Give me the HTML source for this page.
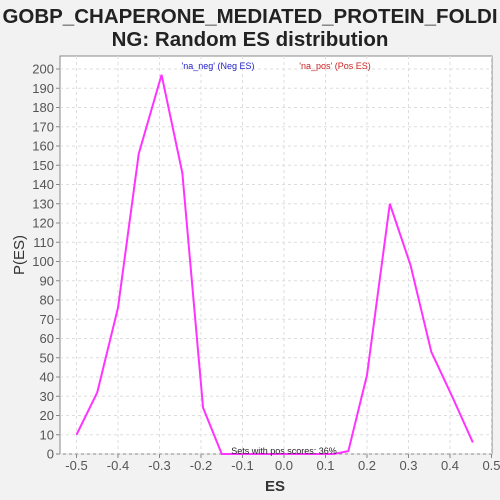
<!DOCTYPE html>
<html><head><meta charset="utf-8"><style>
body{margin:0;background:#f2f2f2;font-family:"Liberation Sans",sans-serif}
</style></head><body>
<svg width="500" height="500" style="display:block">
<rect width="500" height="500" fill="#f2f2f2"/>
<text x="250" y="23" text-anchor="middle" font-size="20.5" font-weight="bold" fill="#222">GOBP_CHAPERONE_MEDIATED_PROTEIN_FOLDI</text>
<text x="250" y="46" text-anchor="middle" font-size="20.5" font-weight="bold" fill="#222">NG: Random ES distribution</text>
<rect x="60" y="56" width="432" height="398" fill="#fff" stroke="#888"/>
<g id="grid"></g><g id="axes"></g>
<text x="218" y="69" text-anchor="middle" font-size="9" fill="#2222cc">'na_neg' (Neg ES)</text>
<text x="335" y="69" text-anchor="middle" font-size="9" fill="#cc2222">'na_pos' (Pos ES)</text>
<polyline id="line" fill="none" stroke="#ff33ff" stroke-width="2"/>
<text x="284" y="454" text-anchor="middle" font-size="9" fill="#222">Sets with pos scores: 36%</text>
<text x="275" y="491" text-anchor="middle" font-size="15" font-weight="bold" fill="#333">ES</text>
<text x="24" y="255" text-anchor="middle" font-size="15" fill="#333" transform="rotate(-90 24 255)">P(ES)</text>
</svg>
<script>
const esValues=[-0.5,-0.45,-0.4,-0.35,-0.295,-0.245,-0.195,-0.15,-0.1,0,0.1,0.12,0.155,0.2,0.255,0.305,0.355,0.405,0.455];
const pValues=[10,32,76,156,197,146,24,0,0,0,0,0,1.5,41,130,98,53,30,6];
const xTicks=[-0.5,-0.4,-0.3,-0.2,-0.1,0.0,0.1,0.2,0.3,0.4,0.5];
const yTicks=[0,10,20,30,40,50,60,70,80,90,100,110,120,130,140,150,160,170,180,190,200];
const X=v=>284+v*415, Y=v=>454-v*1.925;
const ns="http://www.w3.org/2000/svg";
const g=document.getElementById('grid'), a=document.getElementById('axes');
function mk(p,t,at){const e=document.createElementNS(ns,t);for(const k in at)e.setAttribute(k,at[k]);p.appendChild(e);return e;}
xTicks.forEach(t=>{const x=X(t);
 const l=mk(g,'line',{x1:x,x2:x,y1:56,y2:454,stroke:'#ddd','stroke-dasharray':'3,3'});
 
 
 const k=mk(a,'line',{x1:x,x2:x,y1:454,y2:458,stroke:'#888'});
 
 
 const s=mk(a,'text',{x:x,y:470,'text-anchor':'middle','font-size':13,fill:'#555'});
 s.textContent=(t===0?'0.0':String(t));
 
 });
yTicks.forEach(t=>{const y=Y(t);
 const l=mk(g,'line',{x1:60,x2:492,y1:y,y2:y,stroke:'#ddd','stroke-dasharray':'3,3'});
 
 
 const k=mk(a,'line',{x1:56,x2:60,y1:y,y2:y,stroke:'#888'});
 
 
 const s=mk(a,'text',{x:54,y:y+4.5,'text-anchor':'end','font-size':13,fill:'#555'});
 s.textContent=t;
 
 });
document.getElementById('line').setAttribute('points',esValues.map((v,i)=>X(v)+','+Y(pValues[i])).join(' '));
</script>
</body></html>
